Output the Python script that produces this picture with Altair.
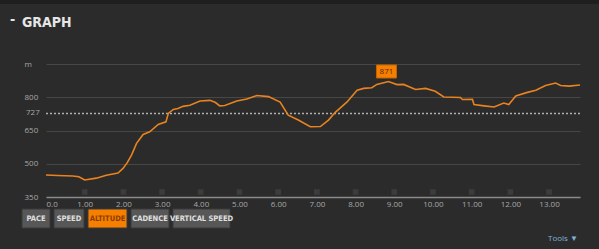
import altair as alt
import pandas as pd

# ---- data ----
distance_km = [0, 0.3, 0.69, 0.85, 1.0, 1.3, 1.56, 1.86, 1.99, 2.1, 2.21, 2.34, 2.51, 2.68, 2.9,
               3.1, 3.16, 3.29, 3.41, 3.54, 3.72, 3.98, 4.24, 4.38, 4.49, 4.62, 4.93, 5.19, 5.45, 5.75,
               6.05, 6.26, 6.52, 6.83, 7.09, 7.30, 7.47, 7.78, 8.04, 8.21, 8.42, 8.55, 8.85, 9.07, 9.24,
               9.55, 9.81, 10.06, 10.28, 10.71, 10.76, 11.02, 11.06, 11.32, 11.58, 11.83, 11.96, 12.14,
               12.44, 12.66, 12.91, 13.17, 13.30, 13.52, 13.8]
altitude_m = [449, 447, 445, 441, 427, 435, 448, 458, 479, 505, 539, 592, 632, 644, 677,
              689, 727, 745, 749, 759, 764, 783, 786, 776, 761, 763, 783, 792, 808, 803,
              778, 719, 697, 667, 668, 697, 731, 779, 832, 840, 843, 858, 871, 857, 858,
              835, 840, 827, 801, 799, 790, 791, 767, 761, 756, 774, 767, 806,
              822, 832, 853, 864, 853, 850, 855]
average_m = 727
peak_km = 8.85
peak_m = 871
x_ticks = list(range(0, 14))
y_ticks = [350, 500, 650, 800, 950]
buttons = ["PACE", "SPEED", "ALTITUDE", "CADENCE", "VERTICAL SPEED"]
active_button = "ALTITUDE"

# ---- layout ----
W, H = 534, 133
BG = "#2b2b2b"
COND = "Liberation Sans Narrow, DejaVu Sans Condensed, sans-serif"
button_x = [(-24, 4), (8, 38), (42, 81), (85, 123), (127, 184)]

xs = alt.Scale(domain=[0, 13.8], nice=False)
ys = alt.Scale(domain=[350, 950], nice=False)

ax_x = alt.Axis(
    values=x_ticks, title=None, grid=False, ticks=False, domainColor="#8a8a8a",
    domainWidth=1.5, labelColor="#a8a8a8", labelFontSize=8, labelPadding=3,
    labelFont="Open Sans", labelFlush=True, labelOverlap=False,
    labelExpr="datum.value == 0 ? '0.0' : format(datum.value, '.2f')")
ax_y = alt.Axis(
    values=y_ticks, title=None, grid=True, gridColor="#474747", gridWidth=1,
    domain=False, ticks=False, labelColor="#a8a8a8", labelFontSize=8,
    labelFont="Open Sans", labelAlign="left", labelPadding=22, labelOverlap=False,
    labelExpr="datum.value == 950 ? 'm' : datum.label")


def X():
    return alt.X("d:Q", scale=xs, axis=ax_x)


def Y():
    return alt.Y("a:Q", scale=ys, axis=ax_y)


line_df = pd.DataFrame({"d": distance_km, "a": altitude_m})
line = alt.Chart(line_df).mark_line(color="#e8831f", strokeWidth=1.6).encode(x=X(), y=Y())

squares = alt.Chart(pd.DataFrame({"d": x_ticks[1:]})).mark_square(
    size=32, color="#3c3c3c", opacity=1).encode(x=X(), y=alt.value(H - 5))

avg_df = pd.DataFrame({"a": [average_m]})
avg_line = alt.Chart(avg_df).mark_rule(color="#b0b0b0", strokeDash=[2, 2], strokeWidth=1.5).encode(
    y=Y(), x=alt.value(0), x2=alt.value(W))
avg_label = alt.Chart(avg_df).mark_text(
    align="left", baseline="middle", fontSize=8, color="#a8a8a8", font="Open Sans").encode(
    y=Y(), x=alt.value(-20), text=alt.Text("a:Q"))

peak_df = pd.DataFrame({"d": [peak_km], "a": [peak_m]})
peak_box = alt.Chart(peak_df).mark_rect(
    color="#f77f00", width=20, height=13, yOffset=-10, xOffset=-2, stroke="#c86400").encode(
    x=X(), y=Y())
peak_text = alt.Chart(peak_df).mark_text(
    fontSize=8, color="#5a2a00", font="Open Sans", yOffset=-10, dx=-2, baseline="middle").encode(
    x=X(), y=Y(), text=alt.Text("a:Q"))

btn_df = pd.DataFrame({
    "label": buttons,
    "x0": [b[0] for b in button_x],
    "x1": [b[1] for b in button_x],
})
btn_df["xc"] = (btn_df["x0"] + btn_df["x1"]) / 2
btn_df["active"] = btn_df["label"] == active_button

btn_rects = alt.Chart(btn_df).mark_rect(stroke="#3a3a3a").encode(
    x=alt.X("x0:Q", scale=None), x2="x1:Q",
    y=alt.value(145), y2=alt.value(164),
    color=alt.condition("datum.active", alt.value("#f77f00"), alt.value("#575757")))
btn_text = alt.Chart(btn_df).mark_text(
    fontSize=7.5, font=COND, fontWeight="bold", baseline="middle").encode(
    x=alt.X("xc:Q", scale=None), y=alt.value(155), text="label:N",
    color=alt.condition("datum.active", alt.value("#8a3d00"), alt.value("#e0e0e0")))

top_strip = alt.Chart(pd.DataFrame({"k": [0]})).mark_rect(color="#1f1f1f").encode(
    x=alt.value(-46), x2=alt.value(W + 19), y=alt.value(-64), y2=alt.value(-60))
title_dash = alt.Chart(pd.DataFrame({"t": ["-"]})).mark_text(
    fontSize=14, color="#e6e6e6", font=COND, fontWeight="bold",
    align="left", baseline="alphabetic").encode(
    x=alt.value(-36), y=alt.value(-40), text="t:N")
title = alt.Chart(pd.DataFrame({"t": ["GRAPH"]})).mark_text(
    fontSize=14, color="#e6e6e6", font=COND, fontWeight="bold",
    align="left", baseline="alphabetic").encode(
    x=alt.value(-24), y=alt.value(-37), text="t:N")
tools = alt.Chart(pd.DataFrame({"t": ["Tools ▼"]})).mark_text(
    fontSize=8, color="#7fb3dc", font="Open Sans", align="left", baseline="middle").encode(
    x=alt.value(502), y=alt.value(175), text="t:N")

chart = alt.layer(
    top_strip, squares, avg_line, line, avg_label, peak_box, peak_text,
    btn_rects, btn_text, title_dash, title, tools
).properties(
    width=W, height=H,
    autosize="none",
    padding={"left": 46, "top": 64, "right": 19, "bottom": 52},
    background=BG,
).configure_view(stroke=None)

chart.save("out.html", embed_options={"renderer": "svg", "actions": False})
